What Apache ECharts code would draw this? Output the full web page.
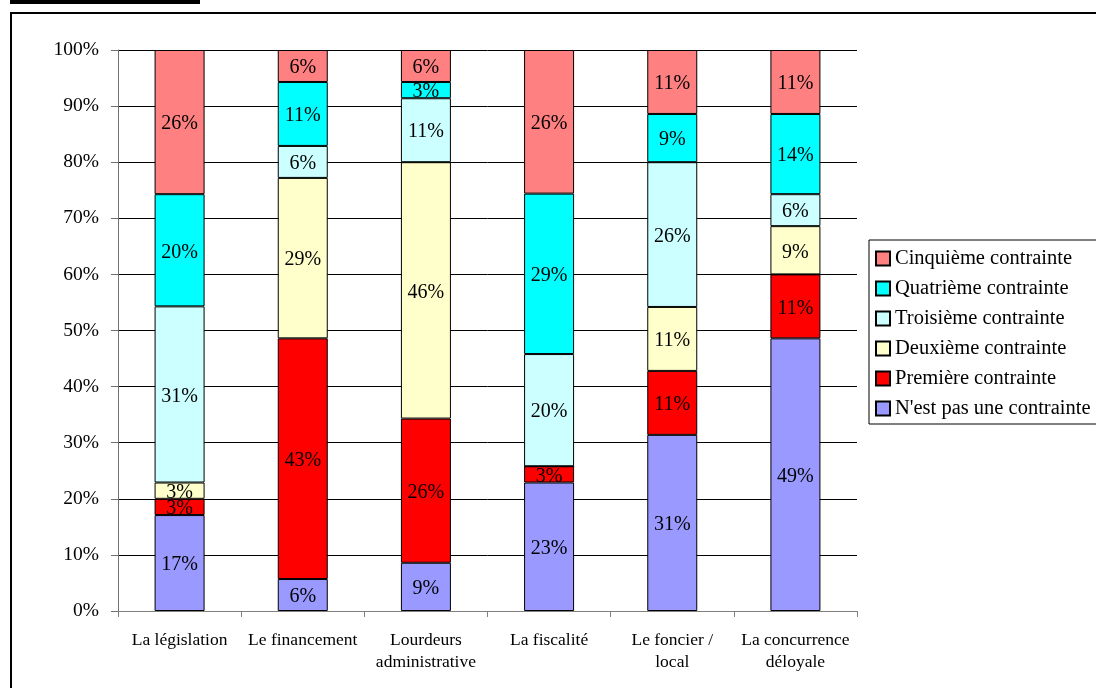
<!DOCTYPE html>
<html>
<head>
<meta charset="utf-8">
<script src="https://cdn.jsdelivr.net/npm/echarts@6/dist/echarts.min.js"></script>
<style>
  html, body { margin: 0; padding: 0; background: #fff; }
  #chart { width: 1096px; height: 688px; }
</style>
</head>
<body>
<div id="chart"></div>
<script>
// categories and shares (%)
var categories = ['La législation', 'Le financement', 'Lourdeurs\nadministrative', 'La fiscalité', 'Le foncier /\nlocal', 'La concurrence\ndéloyale'];
var pasContrainte = [17.1, 5.7, 8.6, 22.9, 31.4, 48.6];
var premiere = [2.9, 42.9, 25.7, 2.9, 11.4, 11.4];
var deuxieme = [2.9, 28.6, 45.7, 0, 11.4, 8.6];
var troisieme = [31.4, 5.7, 11.4, 20.0, 25.8, 5.7];
var quatrieme = [20.0, 11.4, 2.9, 28.6, 8.6, 14.3];
var cinquieme = [25.7, 5.7, 5.7, 25.6, 11.4, 11.4];

var yTicks = [0, 10, 20, 30, 40, 50, 60, 70, 80, 90, 100];

var font = '"Liberation Serif", "Times New Roman", serif';

function makeSeries(name, data, color) {
    return {
        name: name,
        type: 'bar',
        stack: 'total',
        barWidth: 50,
        data: data,
        itemStyle: { color: color, borderColor: '#000', borderWidth: 1 },
        label: {
            show: true,
            position: 'inside',
            offset: [0, 2],
            color: '#000',
            fontFamily: font,
            fontSize: 20,
            formatter: function (p) {
                return p.value > 0 ? Math.round(p.value) + '%' : '';
            }
        },
        emphasis: { disabled: true }
    };
}

var chart = echarts.init(document.getElementById('chart'), null, { renderer: 'canvas' });

chart.setOption({
    animation: false,
    backgroundColor: '#fff',
    grid: { left: 118, right: 239, top: 50, bottom: 77 },
    legend: {
        orient: 'vertical',
        left: 869,
        top: 240,
        padding: [8, 20, 5, 6],
        itemWidth: 14,
        itemHeight: 14,
        itemGap: 9,
        borderColor: '#000',
        borderWidth: 1,
        icon: 'rect',
        textStyle: { fontFamily: font, fontSize: 20.5, color: '#000', lineHeight: 20 },
        data: ['Cinquième contrainte', 'Quatrième contrainte', 'Troisième contrainte',
               'Deuxième contrainte', 'Première contrainte', "N'est pas une contrainte"]
    },
    xAxis: {
        type: 'category',
        data: categories,
        axisLine: { lineStyle: { color: '#808080', width: 1 } },
        axisTick: { show: true, length: 6, lineStyle: { color: '#808080' } },
        axisLabel: {
            interval: 0,
            margin: 18,
            fontFamily: font,
            fontSize: 17.5,
            lineHeight: 22,
            color: '#000'
        }
    },
    yAxis: {
        type: 'value',
        min: yTicks[0],
        max: yTicks[yTicks.length - 1],
        interval: 10,
        axisLine: { show: true, lineStyle: { color: '#707070', width: 1 } },
        axisTick: { show: true, length: 7, lineStyle: { color: '#707070' } },
        splitLine: { show: true, lineStyle: { color: '#000', width: 1 } },
        axisLabel: {
            margin: 19,
            fontFamily: font,
            fontSize: 19.5,
            color: '#000',
            formatter: '{value}%'
        }
    },
    graphic: [
        { type: 'rect', shape: { x: 10, y: 0, width: 190, height: 4 }, style: { fill: '#000' } },
        { type: 'rect', shape: { x: 10, y: 12, width: 1086, height: 2 }, style: { fill: '#000' } },
        { type: 'rect', shape: { x: 10, y: 12, width: 2, height: 676 }, style: { fill: '#000' } }
    ],
    series: [
        makeSeries("N'est pas une contrainte", pasContrainte, '#9999FF'),
        makeSeries('Première contrainte', premiere, '#FF0000'),
        makeSeries('Deuxième contrainte', deuxieme, '#FFFFCC'),
        makeSeries('Troisième contrainte', troisieme, '#CCFFFF'),
        makeSeries('Quatrième contrainte', quatrieme, '#00FFFF'),
        makeSeries('Cinquième contrainte', cinquieme, '#FF8080')
    ]
});
</script>
</body>
</html>
